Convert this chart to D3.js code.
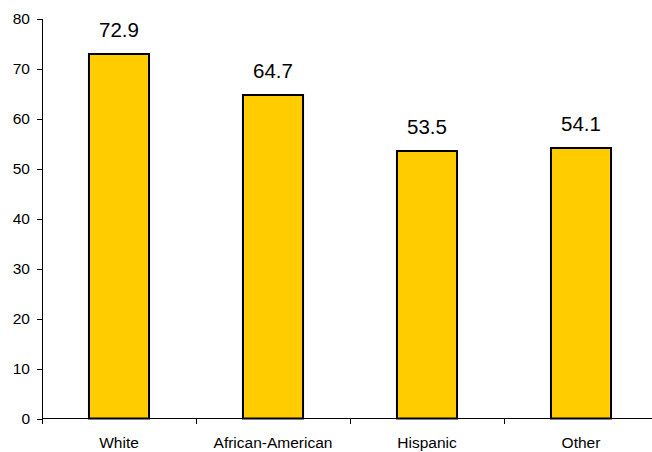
<!DOCTYPE html>
<html>
<head>
<meta charset="utf-8">
<script src="https://cdn.jsdelivr.net/npm/d3@7"></script>
<style>
  body { margin: 0; background: #fff; }
  svg { display: block; font-family: Arial, "Liberation Sans", sans-serif; }
  .axis path, .axis line { stroke: #000; shape-rendering: crispEdges; }
  .axis text { fill: #000; font-size: 15.5px; font-family: Arial, "Liberation Sans", sans-serif; }
</style>
</head>
<body>
<div id="chart"></div>
<script>
const categories = ["White", "African-American", "Hispanic", "Other"];
const values = [72.9, 64.7, 53.5, 54.1];
const yTicks = [0, 10, 20, 30, 40, 50, 60, 70, 80];

const W = 652, H = 452;
const svg = d3.select("#chart").append("svg").attr("width", W).attr("height", H);

const x = d3.scaleBand().domain(categories).range([42, 658]);
const y = d3.scaleLinear().domain([0, 80]).range([418.5, 18.5]);

// bars
const barW = x.bandwidth() * 0.39;
svg.selectAll(".bar").data(values).enter().append("rect")
    .attr("x", (d, i) => x(categories[i]) + x.bandwidth() / 2 - barW / 2)
    .attr("y", d => y(d))
    .attr("width", barW)
    .attr("height", d => y(0) - y(d))
    .attr("fill", "#FFCC00")
    .attr("stroke", "#000")
    .attr("stroke-width", 2);

// value labels
svg.selectAll(".lbl").data(values).enter().append("text")
    .attr("x", (d, i) => x(categories[i]) + x.bandwidth() / 2)
    .attr("y", d => y(d) - 17.5)
    .attr("text-anchor", "middle")
    .attr("font-size", "20.5px")
    .text(d => d.toFixed(1));

// y axis
const yAxis = svg.append("g").attr("class", "axis")
    .attr("transform", "translate(42,0)")
    .call(d3.axisLeft(y).tickValues(yTicks).tickSize(5).tickPadding(7).tickSizeOuter(0));
yAxis.selectAll("text").attr("dy", "0.35em");

// x axis
const xAxis = svg.append("g").attr("class", "axis")
    .attr("transform", `translate(0,${y(0)})`);
xAxis.append("line").attr("x1", 42).attr("x2", W).attr("y1", 0).attr("y2", 0);
const bounds = categories.map(c => x(c));
xAxis.selectAll(".tk").data(bounds).enter().append("line")
    .attr("x1", d => d).attr("x2", d => d).attr("y1", 0).attr("y2", 5);
xAxis.selectAll(".cl").data(categories).enter().append("text")
    .attr("x", d => x(d) + x.bandwidth() / 2)
    .attr("y", 29)
    .attr("text-anchor", "middle")
    .text(d => d);
</script>
</body>
</html>
